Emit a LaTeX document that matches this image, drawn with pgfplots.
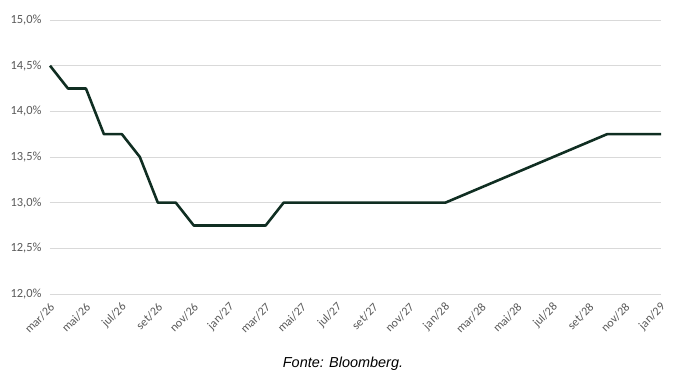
\documentclass[border=0pt]{standalone}
\usepackage{fontspec}
\setmainfont{Carlito}
\newfontfamily\arialfont{Liberation Sans}
\usepackage{pgfplots}
\pgfplotsset{compat=1.18}
\definecolor{linegreen}{RGB}{16,46,34}
\definecolor{gridgray}{RGB}{217,217,217}
\definecolor{labgray}{RGB}{89,89,89}
\begin{document}
\begin{tikzpicture}
\begin{axis}[
  name=ax,
  scale only axis,
  width=611bp, height=274bp,
  xmin=0, xmax=34,
  ymin=12, ymax=15,
  axis line style={draw=none},
  major tick length=0pt,
  ytick={12,12.5,...,15},
  ymajorgrids,
  major grid style={gridgray, line width=0.8pt},
  /pgf/number format/assume math mode=true,
  yticklabel={\pgfmathprintnumber[fixed,fixed zerofill,precision=1,use comma]{\tick}\%},
  yticklabel style={font=\fontsize{12.5}{14}\selectfont, text=labgray, xshift=-5bp},
  xtick={0,2,...,34},
  xticklabels={mar/26,mai/26,jul/26,set/26,nov/26,jan/27,mar/27,mai/27,jul/27,set/27,nov/27,jan/28,mar/28,mai/28,jul/28,set/28,nov/28,jan/29},
  xticklabel style={font=\fontsize{12}{14}\selectfont, text=labgray, xshift=5bp, yshift=-9bp, rotate=45, anchor=east},
  clip=false,
]
\addplot[linegreen, line width=2.6pt, line join=round] coordinates {
 (0,14.5) (1,14.25) (2,14.25) (3,13.75) (4,13.75) (5,13.5) (6,13.0) (7,13.0)
 (8,12.75) (9,12.75) (10,12.75) (11,12.75) (12,12.75) (13,13.0) (14,13.0)
 (15,13.0) (16,13.0) (17,13.0) (18,13.0) (19,13.0) (20,13.0) (21,13.0) (22,13.0)
 (31,13.75) (32,13.75) (33,13.75) (34,13.75)
};
\end{axis}
\node[font=\arialfont\itshape\fontsize{14.5}{16}\selectfont, anchor=center] at ([xshift=293bp,yshift=-70bp]ax.south west) {Fonte: Bloomberg.};
\pgfresetboundingbox
\path ([xshift=-50bp,yshift=-97bp]ax.south west) rectangle ++(682bp,391bp);
\end{tikzpicture}
\end{document}
